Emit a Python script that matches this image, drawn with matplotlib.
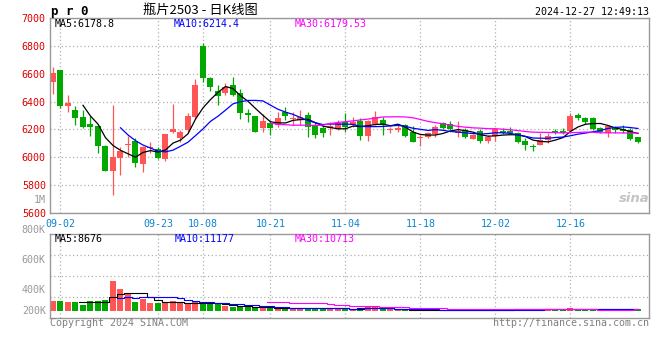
#!/usr/bin/env python3
"""
Daily K-line chart for 瓶片2503 (Sina finance style), price + volume panels
"""

import matplotlib

matplotlib.use("Agg")
import matplotlib.pyplot as plt
import numpy as np
import pandas as pd

# trading calendar: 2024-08-30 .. 2024-12-27, exchange holidays removed
holidays = ["2024-09-16", "2024-09-17", "2024-10-01", "2024-10-02",
            "2024-10-03", "2024-10-04", "2024-10-07"]
tick_labels = ["09-02", "09-23", "10-08", "10-21", "11-04", "11-18", "12-02", "12-16"]

opens = [6543, 6627, 6370, 6339, 6287, 6239, 6225, 6081, 5904, 5993,
         6085, 6117, 5950, 6066, 6059, 5985, 6184, 6136, 6196, 6287,
         6799, 6567, 6476, 6460, 6519, 6459, 6320, 6296, 6212, 6244,
         6232, 6327, 6272, 6268, 6303, 6232, 6208, 6208, 6203, 6256,
         6232, 6260, 6153, 6239, 6268, 6194, 6196, 6232, 6184, 6139,
         6148, 6167, 6244, 6236, 6177, 6196, 6131, 6189, 6117, 6153,
         6191, 6191, 6172, 6119, 6078, 6088, 6124, 6191, 6191, 6191,
         6303, 6280, 6280, 6208, 6177, 6208, 6203, 6196, 6143]
highs = [6650, 6630, 6447, 6368, 6339, 6296, 6230, 6085, 6375, 6071,
         6153, 6141, 6080, 6108, 6071, 6170, 6382, 6196, 6316, 6560,
         6818, 6580, 6519, 6530, 6575, 6488, 6345, 6300, 6310, 6268,
         6323, 6359, 6327, 6339, 6323, 6256, 6232, 6256, 6268, 6316,
         6292, 6280, 6268, 6334, 6287, 6220, 6232, 6236, 6225, 6160,
         6184, 6232, 6250, 6263, 6263, 6208, 6165, 6201, 6160, 6208,
         6213, 6220, 6184, 6136, 6093, 6172, 6172, 6201, 6208, 6315,
         6315, 6291, 6287, 6220, 6232, 6227, 6232, 6208, 6148]
lows = [6452, 6356, 6327, 6232, 6210, 6153, 6033, 5900, 5729, 5873,
        6004, 5928, 5896, 6029, 5985, 5973, 6172, 6112, 6184, 6274,
        6543, 6473, 6375, 6445, 6440, 6273, 6256, 6180, 6184, 6160,
        6220, 6268, 6232, 6232, 6143, 6136, 6148, 6160, 6196, 6184,
        6220, 6124, 6119, 6232, 6160, 6172, 6184, 6148, 6110, 6081,
        6136, 6148, 6200, 6196, 6148, 6136, 6129, 6105, 6100, 6117,
        6165, 6165, 6100, 6052, 6045, 6086, 6100, 6167, 6167, 6172,
        6268, 6239, 6196, 6172, 6148, 6177, 6177, 6124, 6100]
closes = [6603, 6368, 6392, 6284, 6220, 6215, 6081, 5904, 6004, 6047,
          6090, 5957, 6076, 6070, 5993, 6167, 6203, 6184, 6296, 6519,
          6571, 6502, 6442, 6507, 6445, 6316, 6301, 6184, 6260, 6212,
          6280, 6296, 6278, 6287, 6220, 6160, 6172, 6227, 6244, 6220,
          6256, 6155, 6260, 6287, 6232, 6198, 6212, 6153, 6112, 6143,
          6177, 6215, 6208, 6203, 6189, 6143, 6160, 6117, 6148, 6201,
          6172, 6172, 6112, 6088, 6074, 6124, 6155, 6177, 6177, 6296,
          6284, 6251, 6203, 6179, 6225, 6196, 6191, 6131, 6112]
volumes = [67000, 67000, 62000, 60000, 42000, 67000, 67000, 75000, 202000, 149000,
           113000, 62000, 82000, 55000, 55000, 55000, 69000, 51000, 47000, 58000,
           55000, 45000, 45000, 33000, 29000, 29000, 25000, 25000, 20000, 18000,
           18000, 18000, 17000, 17000, 17000, 18000, 20000, 15000, 22000, 11000,
           11000, 22000, 25000, 25000, 11000, 11000, 7000, 7000, 7000, 7000,
           7000, 7000, 7000, 7000, 7000, 7000, 7000, 7000, 7000, 11000,
           11000, 11000, 11000, 11000, 11000, 11000, 11000, 11000, 11000, 22000,
           11000, 11000, 11000, 11000, 11000, 11000, 11000, 11000, 11000]

UP = "#ff5555"
DOWN = "#00a800"
FRAME = "#999999"
GRID = "#b0b0b0"
MA_COLORS = [(5, "#000000"), (10, "#0000ff"), (30, "#ff00ff")]

plt.rcParams["font.family"] = ["DejaVu Sans Mono"]
FS = 7.2


def px(x, y):
    """pixel position (from top-left) -> figure fraction"""
    return x / 660, 1 - y / 360


def style_axes(ax, tick_pos):
    for sp in ax.spines.values():
        sp.set_color(FRAME)
        sp.set_linewidth(1)
    ax.set_xticks(tick_pos)
    ax.grid(True, color=GRID, linestyle=(0, (1, 2)), linewidth=0.9)
    ax.tick_params(length=0)
    ax.set_axisbelow(True)


dates = pd.bdate_range("2024-08-30", "2024-12-27")
dates = dates[~dates.isin(pd.to_datetime(holidays))]
date_str = list(dates.strftime("%m-%d"))
tick_pos = [date_str.index(t) for t in tick_labels]

o = np.array(opens)
h = np.array(highs)
l = np.array(lows)
c = np.array(closes)
v = np.array(volumes)
x = np.arange(len(c))
colors = np.where(c >= o, UP, DOWN)

fig = plt.figure(figsize=(6.6, 3.6), dpi=100)
ax = fig.add_axes([50 / 660, 147 / 360, 599 / 660, 195 / 360])
axv = fig.add_axes([50 / 660, 42 / 360, 599 / 660, 84 / 360])

# price panel
ax.vlines(x, l, h, colors=colors, linewidth=0.9)
ax.bar(x, np.maximum(np.abs(c - o), 7), bottom=np.minimum(o, c), width=0.8,
       color=colors, linewidth=0)
cs = pd.Series(c, dtype=float)
for n, col in MA_COLORS:
    ax.plot(x, cs.rolling(n).mean(), color=col, linewidth=0.9)

ax.set_xlim(-0.4, 79.47)
ax.set_ylim(5600, 7000)
style_axes(ax, tick_pos)
ax.set_xticklabels(tick_labels)
ax.set_yticks(np.arange(5600, 7001, 200))
ax.tick_params(axis="y", pad=3, labelcolor="#dd0000", labelsize=FS)
ax.tick_params(axis="x", pad=4, labelcolor="#0a84d0", labelsize=FS)

# volume panel
axv.bar(x, v, width=0.8, color=colors, linewidth=0)
vs = pd.Series(v, dtype=float)
for n, col in MA_COLORS:
    axv.plot(x, vs.rolling(n).mean(), color=col, linewidth=0.8, drawstyle="steps-mid")

vlo, vhi = -46700, 513300
axv.set_xlim(-0.4, 79.47)
axv.set_ylim(vlo, vhi)
style_axes(axv, tick_pos)
axv.set_xticklabels([])
axv.set_yticks(np.linspace(vlo, vhi, 5)[1:4])
axv.set_yticklabels([])

# volume axis labels as drawn by the source chart
for frac, lab in [(1.405, "1M"), (1.048, "800K"), (0.69, "600K"), (0.333, "400K"), (0.083, "200K")]:
    axv.text(-0.007, frac, lab, transform=axv.transAxes, ha="right", va="center",
             color="#999999", fontsize=FS, clip_on=False)

# header texts
fig.text(*px(51, 11), "p r 0", fontsize=9, fontweight="bold", va="center")
fig.text(*px(200, 10), "瓶片2503 - 日K线图", fontsize=9.5, ha="center", va="center",
         family=["Noto Sans CJK SC", "DejaVu Sans"])
fig.text(*px(649, 12), "2024-12-27 12:49:13", fontsize=FS, ha="right", va="center")

fig.text(*px(55, 24), "MA5:6178.8", fontsize=FS, color="#000000", va="center")
fig.text(*px(174, 24), "MA10:6214.4", fontsize=FS, color="#0000ff", va="center")
fig.text(*px(295, 24), "MA30:6179.53", fontsize=FS, color="#ff00ff", va="center")

fig.text(*px(55, 239), "MA5:8676", fontsize=FS, color="#000000", va="center")
fig.text(*px(175, 239), "MA10:11177", fontsize=FS, color="#0000ff", va="center")
fig.text(*px(295, 239), "MA30:10713", fontsize=FS, color="#ff00ff", va="center")

fig.text(*px(50, 323), "Copyright 2024 SINA.COM", fontsize=FS, color="#808080", va="center")
fig.text(*px(649, 323), "http://finance.sina.com.cn", fontsize=FS, color="#808080",
         ha="right", va="center")

# watermark
fig.text(*px(634, 199), "sina", fontsize=9.5, fontweight="bold", style="italic",
         color="#c4c4c4", ha="center", va="center", family=["DejaVu Sans"])

fig.savefig("out.png", dpi=100)
